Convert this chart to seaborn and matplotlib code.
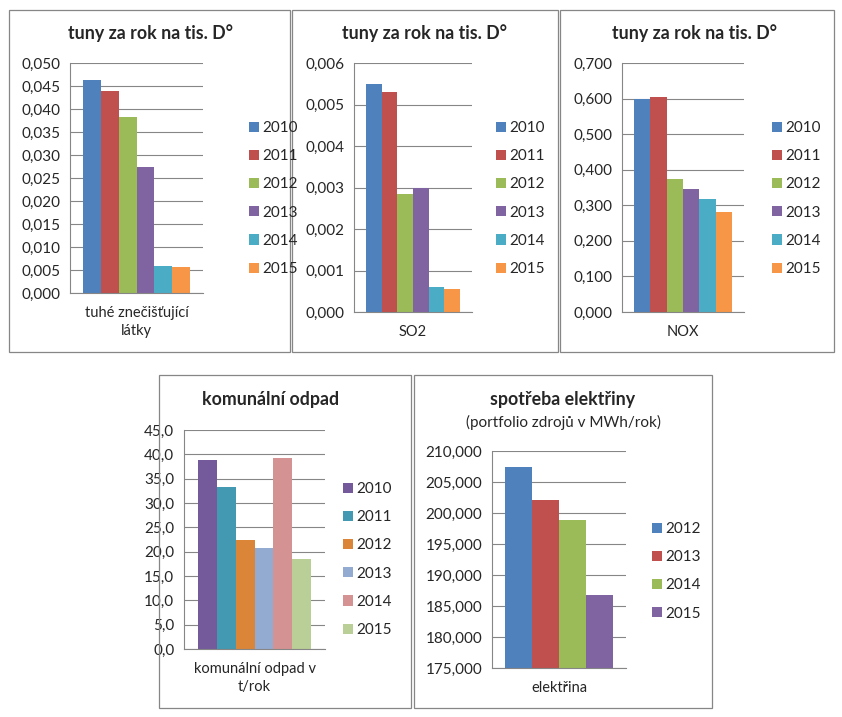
import pandas as pd
import matplotlib.pyplot as plt
from matplotlib.patches import Rectangle, Patch
import seaborn as sns

# data
years_a = ['2010', '2011', '2012', '2013', '2014', '2015']
tzl_vals = [0.0464, 0.0440, 0.0382, 0.0273, 0.0058, 0.0056]
so2_vals = [0.00550, 0.00530, 0.00284, 0.00300, 0.00060, 0.00056]
nox_vals = [0.598, 0.605, 0.374, 0.346, 0.318, 0.282]
odpad_vals = [38.8, 33.3, 22.5, 20.8, 39.3, 18.5]
years_e = ['2012', '2013', '2014', '2015']
elektrina_vals = [207.37, 202.11, 198.89, 186.81]

colors_main = ['#4F81BD', '#C0504D', '#9BBB59', '#8064A2', '#4BACC6', '#F79646']
colors_odpad = ['#74599B', '#4299B1', '#DB8539', '#93AAD1', '#D49392', '#BACE97']
colors_elek = ['#4F81BD', '#C0504D', '#9BBB59', '#8064A2']

sns.set_style('white')
plt.rcParams['font.family'] = ['Lato', 'DejaVu Sans']

W, H = 842, 717
fig = plt.figure(figsize=(W / 100, H / 100), dpi=100)
GRAY = '#868686'


def px_axes(x0, y0, x1, y1):
    return fig.add_axes([x0 / W, 1 - y1 / H, (x1 - x0) / W, (y1 - y0) / H])


def box(x0, y0, x1, y1):
    fig.patches.append(Rectangle((x0 / W, 1 - y1 / H), (x1 - x0) / W, (y1 - y0) / H,
                                 transform=fig.transFigure, fill=False,
                                 edgecolor=GRAY, linewidth=0.9))


panels = [
    # box, axes, category, years, values, colors, ylim, step, decimals, title, legend (x, y top)
    dict(box=(9, 10, 290, 352), ax=(70, 63, 203, 293), cat='tuhé znečišťující\nlátky',
         years=years_a, vals=tzl_vals, colors=colors_main, ylim=(0, 0.05), step=0.005, dec=3,
         title='tuny za rok na tis. D°', tpos=(150, 33), leg=(249, 121)),
    dict(box=(292, 10, 558, 352), ax=(354, 63, 472, 312), cat='SO2',
         years=years_a, vals=so2_vals, colors=colors_main, ylim=(0, 0.006), step=0.001, dec=3,
         title='tuny za rok na tis. D°', tpos=(425, 33), leg=(496, 121)),
    dict(box=(560, 10, 834, 352), ax=(622, 63, 744, 312), cat='NOX',
         years=years_a, vals=nox_vals, colors=colors_main, ylim=(0, 0.7), step=0.1, dec=3,
         title='tuny za rok na tis. D°', tpos=(695, 33), leg=(772, 121)),
    dict(box=(159, 375, 411, 708), ax=(184, 430, 325, 649), cat='komunální odpad v\nt/rok',
         years=years_a, vals=odpad_vals, colors=colors_odpad, ylim=(0, 45), step=5, dec=1,
         title='komunální odpad', tpos=(271, 400), leg=(343, 482)),
    dict(box=(414, 375, 712, 708), ax=(492, 451, 626, 668), cat='elektřina',
         years=years_e, vals=elektrina_vals, colors=colors_elek, ylim=(175, 210), step=5, dec=3,
         title='spotřeba elektřiny', tpos=(563, 400), leg=(652, 522)),
]

for p in panels:
    box(*p['box'])
    ax = px_axes(*p['ax'])
    df = pd.DataFrame({'cat': p['cat'], 'year': p['years'], 'val': p['vals']})
    sns.barplot(data=df, x='cat', y='val', hue='year', palette=p['colors'],
                width=0.8, gap=0, saturation=1, legend=False, ax=ax)
    for bar in ax.patches:
        bar.set_linewidth(0)
    lo, hi = p['ylim']
    n = int(round((hi - lo) / p['step']))
    ticks = [lo + i * p['step'] for i in range(n + 1)]
    ax.set_ylim(lo, hi)
    ax.set_xlim(-0.5, 0.5)
    ax.set_yticks(ticks)
    ax.set_yticklabels([f"{t:.{p['dec']}f}".replace('.', ',') for t in ticks], fontsize=11)
    ax.set_xticks([0])
    ax.set_xticklabels([p['cat']], fontsize=10.5, linespacing=1.4)
    ax.tick_params(axis='x', length=0, pad=9)
    ax.tick_params(axis='y', length=4, width=0.8, color=GRAY, pad=3, direction='out')
    ax.yaxis.grid(True, color=GRAY, linewidth=0.8)
    ax.set_axisbelow(True)
    ax.set_xlabel('')
    ax.set_ylabel('')
    for side in ['top', 'right']:
        ax.spines[side].set_visible(False)
    for side in ['left', 'bottom']:
        ax.spines[side].set_color(GRAY)
        ax.spines[side].set_linewidth(0.8)

    fig.text(p['tpos'][0] / W, 1 - p['tpos'][1] / H, p['title'], ha='center', va='center',
             fontsize=12.8, fontweight='bold')

    handles = [Patch(facecolor=c, edgecolor='none') for c in p['colors']]
    fig.legend(handles, p['years'], loc='upper left',
               bbox_to_anchor=(p['leg'][0] / W, 1 - p['leg'][1] / H),
               frameon=False, fontsize=11, handlelength=0.65, handleheight=0.65,
               handletextpad=0.2, labelspacing=0.93, borderpad=0, borderaxespad=0)

fig.text(563 / W, 1 - 422 / H, '(portfolio zdrojů v MWh/rok)', ha='center', va='center',
         fontsize=11)

fig.savefig('out.png', dpi=100)
